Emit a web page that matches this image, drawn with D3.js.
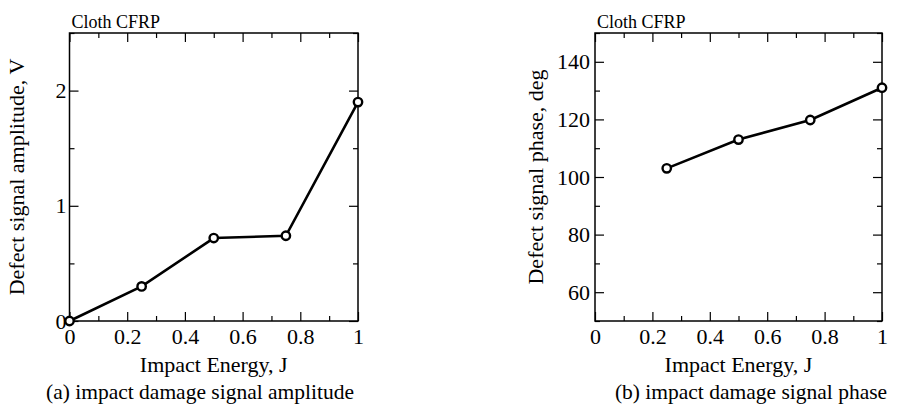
<!DOCTYPE html>
<html>
<head>
<meta charset="utf-8">
<script src="https://cdn.jsdelivr.net/npm/d3@7"></script>
<style>
  body { margin: 0; background: #fff; }
  .axis path { display: none; }
  .axis line { stroke: #000; stroke-width: 1.2; }
</style>
</head>
<body>
<div id="chart"></div>
<script>
// Panel (a): impact damage signal amplitude
const energyA = [0, 0.25, 0.5, 0.75, 1];
const amplitude = [0, 0.3, 0.72, 0.74, 1.9];
const ampTicks = [0, 1, 2];
const ampMinor = [0.5, 1.5, 2.5];

// Panel (b): impact damage signal phase
const energyB = [0.25, 0.5, 0.75, 1];
const phase = [103, 113, 119.8, 131];
const phaseTicks = [60, 80, 100, 120, 140];
const phaseMinor = [50, 70, 90, 110, 130, 150];

const energyTicks = [0, 0.2, 0.4, 0.6, 0.8, 1];
const energyMinor = [0.1, 0.3, 0.5, 0.7, 0.9];

const width = 922, height = 408;
const FONT = "'Liberation Serif', 'Times New Roman', serif";
const FS = 22;

const svg = d3.select("#chart")
  .append("svg")
  .attr("width", width)
  .attr("height", height);

/*
 * Draws one framed panel with inward ticks on all four sides
 */
const drawPanel = (opt) => {
  const x = d3.scaleLinear().domain([0, 1]).range([opt.left, opt.right]);
  const y = d3.scaleLinear().domain(opt.yDomain).range([opt.bottom, opt.top]);
  const major = 9, minor = 5;
  const fmt = (d) => String(d);

  const g = svg.append("g");

  const styleText = (sel) =>
    sel.selectAll("text")
      .attr("font-family", FONT)
      .style("font-size", FS + "px")
      .attr("fill", "#000");

  // bottom axis with labels
  g.append("g").attr("class", "axis")
    .attr("transform", "translate(0," + opt.bottom + ")")
    .call(d3.axisBottom(x).tickValues(energyTicks).tickSize(-major).tickPadding(7).tickFormat(fmt))
    .call(styleText);
  g.append("g").attr("class", "axis")
    .attr("transform", "translate(0," + opt.bottom + ")")
    .call(d3.axisBottom(x).tickValues(energyMinor).tickSize(-minor).tickFormat(""));
  // top axis
  g.append("g").attr("class", "axis")
    .attr("transform", "translate(0," + opt.top + ")")
    .call(d3.axisTop(x).tickValues(energyTicks).tickSize(-major).tickFormat(""));
  g.append("g").attr("class", "axis")
    .attr("transform", "translate(0," + opt.top + ")")
    .call(d3.axisTop(x).tickValues(energyMinor).tickSize(-minor).tickFormat(""));
  // left axis with labels
  g.append("g").attr("class", "axis")
    .attr("transform", "translate(" + opt.left + ",0)")
    .call(d3.axisLeft(y).tickValues(opt.yTicks).tickSize(-major).tickPadding(opt.yPad).tickFormat(fmt))
    .call(styleText);
  g.append("g").attr("class", "axis")
    .attr("transform", "translate(" + opt.left + ",0)")
    .call(d3.axisLeft(y).tickValues(opt.yMinor).tickSize(-minor).tickFormat(""));
  // right axis
  g.append("g").attr("class", "axis")
    .attr("transform", "translate(" + opt.right + ",0)")
    .call(d3.axisRight(y).tickValues(opt.yTicks).tickSize(-major).tickFormat(""));
  g.append("g").attr("class", "axis")
    .attr("transform", "translate(" + opt.right + ",0)")
    .call(d3.axisRight(y).tickValues(opt.yMinor).tickSize(-minor).tickFormat(""));

  // frame
  g.append("rect")
    .attr("x", opt.left).attr("y", opt.top)
    .attr("width", opt.right - opt.left).attr("height", opt.bottom - opt.top)
    .attr("fill", "none").attr("stroke", "#000").attr("stroke-width", 1.5);

  // data line
  const pts = opt.xs.map((d, i) => [d, opt.ys[i]]);
  g.append("path")
    .datum(pts)
    .attr("fill", "none")
    .attr("stroke", "#000")
    .attr("stroke-width", 2.6)
    .attr("d", d3.line().x((d) => x(d[0])).y((d) => y(d[1])));

  g.selectAll("circle.pt")
    .data(pts)
    .enter()
    .append("circle")
    .attr("class", "pt")
    .attr("cx", (d) => x(d[0]))
    .attr("cy", (d) => y(d[1]))
    .attr("r", 4.2)
    .attr("fill", "#fff")
    .attr("stroke", "#000")
    .attr("stroke-width", 2.4);

  // labels
  g.append("text")
    .attr("x", opt.left + 2).attr("y", 28)
    .attr("font-family", FONT)
    .style("font-size", "18px")
    .text("Cloth CFRP");

  g.append("text")
    .attr("x", (opt.left + opt.right) / 2).attr("y", 372)
    .attr("text-anchor", "middle")
    .attr("font-family", FONT)
    .style("font-size", FS + "px")
    .text("Impact Energy, J");

  g.append("text")
    .attr("transform", "translate(" + opt.yTitleX + "," + (opt.top + opt.bottom) / 2 + ") rotate(-90)")
    .attr("text-anchor", "middle")
    .attr("font-family", FONT)
    .style("font-size", FS + "px")
    .text(opt.yTitle);

  g.append("text")
    .attr("x", opt.captionX).attr("y", 399)
    .attr("text-anchor", "middle")
    .attr("font-family", FONT)
    .style("font-size", "21.5px")
    .text(opt.caption);
};

drawPanel({
  left: 69.5, right: 358, top: 33, bottom: 321,
  yDomain: [0, 2.5], yTicks: ampTicks, yMinor: ampMinor, yPad: 3,
  xs: energyA, ys: amplitude,
  yTitle: "Defect signal amplitude, V", yTitleX: 24,
  caption: "(a) impact damage signal amplitude", captionX: 200
});

drawPanel({
  left: 595, right: 882, top: 33, bottom: 321,
  yDomain: [50, 150], yTicks: phaseTicks, yMinor: phaseMinor, yPad: 5,
  xs: energyB, ys: phase,
  yTitle: "Defect signal phase, deg", yTitleX: 543,
  caption: "(b) impact damage signal phase", captionX: 751
});
</script>
</body>
</html>
